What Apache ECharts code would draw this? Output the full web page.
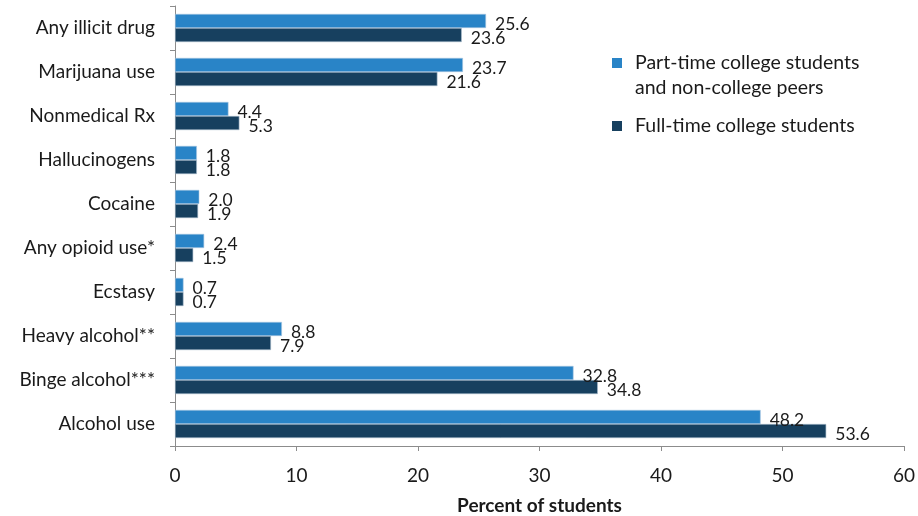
<!DOCTYPE html>
<html>
<head>
<meta charset="utf-8">
<script src="https://cdn.jsdelivr.net/npm/echarts@6/dist/echarts.min.js"></script>
<style>
  html, body { margin: 0; padding: 0; background: #fff; }
  #chart { width: 918px; height: 516px; }
</style>
</head>
<body>
<div id="chart"></div>
<script>
const categories = ['Any illicit drug', 'Marijuana use', 'Nonmedical Rx', 'Hallucinogens', 'Cocaine',
  'Any opioid use*', 'Ecstasy', 'Heavy alcohol**', 'Binge alcohol***', 'Alcohol use'];
const partTime = [25.6, 23.7, 4.4, 1.8, 2.0, 2.4, 0.7, 8.8, 32.8, 48.2];
const fullTime = [23.6, 21.6, 5.3, 1.8, 1.9, 1.5, 0.7, 7.9, 34.8, 53.6];
const seriesNames = ['Part-time college students\nand non-college peers', 'Full-time college students'];
const xTicks = [0, 10, 20, 30, 40, 50, 60];

const FONT = 'Lato';
const TEXT = '#1a1a1a';
const AXIS = '#8c8c8c';
const colors = ['#2984c7', '#17405f'];

const chart = echarts.init(document.getElementById('chart'));

const labelCfg = {
  show: true,
  position: 'right',
  distance: 7,
  offset: [2, 3],
  fontFamily: FONT,
  fontSize: 17.5,
  color: TEXT,
  formatter: p => p.value.toFixed(1)
};

const legendX = 612, legendY = [63, 126];

chart.setOption({
  animation: false,
  textStyle: { fontFamily: FONT },
  grid: { left: 175, top: 6, right: 14, bottom: 70, containLabel: false, outerBoundsMode: 'none' },
  xAxis: {
    type: 'value',
    min: xTicks[0],
    max: xTicks[xTicks.length - 1],
    interval: 10,
    name: 'Percent of students',
    nameLocation: 'middle',
    nameGap: 50,
    nameTextStyle: { fontFamily: FONT, fontSize: 19, fontWeight: 'bold', color: TEXT },
    axisLine: { show: true, lineStyle: { color: AXIS, width: 1 } },
    axisTick: { show: true, length: 5, lineStyle: { color: AXIS } },
    axisLabel: { margin: 20, fontFamily: FONT, fontSize: 19, color: TEXT },
    splitLine: { show: false }
  },
  yAxis: {
    type: 'category',
    data: categories,
    inverse: true,
    axisLine: { show: true, lineStyle: { color: AXIS, width: 1 } },
    axisTick: { show: true, length: 5, lineStyle: { color: AXIS } },
    axisLabel: { margin: 20, fontFamily: FONT, fontSize: 19, color: TEXT }
  },
  series: [
    {
      name: seriesNames[0], type: 'bar', data: partTime,
      barGap: '0%', barCategoryGap: '36%',
      itemStyle: { color: colors[0], borderColor: '#a9c6e0', borderWidth: 0.6 },
      label: labelCfg
    },
    {
      name: seriesNames[1], type: 'bar', data: fullTime,
      barGap: '0%', barCategoryGap: '36%',
      itemStyle: { color: colors[1], borderColor: '#a9bccd', borderWidth: 0.6 },
      label: labelCfg
    }
  ],
  graphic: seriesNames.flatMap((name, i) => [
    { type: 'rect', left: legendX, top: legendY[i] - 5, shape: { width: 10, height: 10 },
      style: { fill: colors[i] } },
    { type: 'text', left: legendX + 23, top: legendY[i] - 13,
      style: { text: name, fontFamily: FONT, fontSize: 19.5, lineHeight: 25, fill: TEXT } }
  ])
});
</script>
</body>
</html>
